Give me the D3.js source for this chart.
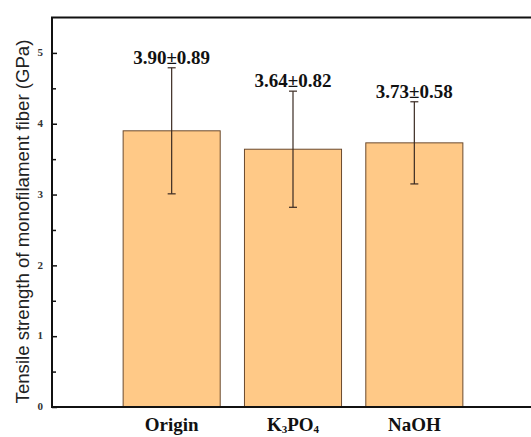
<!DOCTYPE html>
<html><head><meta charset="utf-8">
<script src="https://cdn.jsdelivr.net/npm/d3@7/dist/d3.min.js"></script>
<style>body{margin:0;background:#fff}svg{display:block}</style>
</head><body>
<script>
const categories = ["Origin", "K3PO4", "NaOH"];
const values = [3.90, 3.64, 3.73];
const errors = [0.89, 0.82, 0.58];
const yTicks = [0, 1, 2, 3, 4, 5];
const yMinorTicks = [0.5, 1.5, 2.5, 3.5, 4.5];
const yTitle = "Tensile strength of monofilament fiber (GPa)";

(function () {
const W = 531, H = 437;
const svg = d3.select("body").append("svg").attr("width", W).attr("height", H);
const mLeft = 52, mTop = 17.5, mBottom = 407, mRight = 545;
const serif = "Liberation Serif, Times New Roman, serif";

const y = d3.scaleLinear().domain([0, 5.5]).range([mBottom, mTop]);
const x = d3.scaleBand().domain(categories).range([111, 475]).paddingInner(0.2).paddingOuter(0.1);

// bars
svg.selectAll("rect.bar").data(categories).enter().append("rect")
  .attr("x", d => x(d)).attr("width", x.bandwidth())
  .attr("y", (d, i) => y(values[i])).attr("height", (d, i) => y(0) - y(values[i]))
  .attr("fill", "#FFC987").attr("stroke", "#6b4a2e").attr("stroke-width", 1);

// error bars
const eb = svg.append("g").attr("stroke", "#3a2a22").attr("stroke-width", 1.2);
categories.forEach((c, i) => {
  const cx = x(c) + x.bandwidth() / 2;
  const hi = y(values[i] + errors[i]), lo = y(values[i] - errors[i]);
  eb.append("line").attr("x1", cx).attr("x2", cx).attr("y1", hi).attr("y2", lo);
  eb.append("line").attr("x1", cx - 4).attr("x2", cx + 4).attr("y1", hi).attr("y2", hi);
  eb.append("line").attr("x1", cx - 4).attr("x2", cx + 4).attr("y1", lo).attr("y2", lo);
  svg.append("text").attr("x", cx).attr("y", hi - 4).attr("text-anchor", "middle")
    .attr("font-family", serif).attr("font-weight", "bold")
    .attr("font-size", 19).attr("fill", "#111")
    .text(values[i].toFixed(2) + "±" + errors[i].toFixed(2));
});

// frame
svg.append("rect").attr("x", mLeft).attr("y", mTop).attr("width", mRight - mLeft).attr("height", mBottom - mTop)
  .attr("fill", "none").attr("stroke", "#111").attr("stroke-width", 2);

// y axis
const yAxis = d3.axisRight(y).tickValues(yTicks).tickSize(5).tickFormat(d3.format("d"));
const ga = svg.append("g").attr("transform", `translate(${mLeft},0)`).call(yAxis);
ga.select(".domain").remove();
ga.selectAll(".tick line").attr("stroke", "#111").attr("stroke-width", 1.5);
ga.selectAll(".tick text").attr("x", -9).attr("dy", "0.25em").attr("text-anchor", "end")
  .attr("font-family", serif).attr("font-weight", "bold")
  .attr("font-size", 11).attr("fill", "#333");
const gm = svg.append("g").attr("transform", `translate(${mLeft},0)`)
  .call(d3.axisRight(y).tickValues(yMinorTicks).tickSize(4).tickFormat(""));
gm.select(".domain").remove();
gm.selectAll(".tick line").attr("stroke", "#111").attr("stroke-width", 1.5);

// x labels
const xl = svg.append("g");
categories.forEach(c => {
  const t = xl.append("text").attr("x", x(c) + x.bandwidth() / 2).attr("y", 431)
    .attr("text-anchor", "middle").attr("font-family", serif)
    .attr("font-weight", "bold").attr("font-size", 19).attr("fill", "#111");
  const m = c.match(/^([A-Za-z]+)(\d)([A-Za-z]+)(\d)$/);
  if (m) {
    t.append("tspan").text(m[1]);
    t.append("tspan").attr("font-size", 11).attr("dy", 2).text(m[2]);
    t.append("tspan").attr("dy", -2).text(m[3]);
    t.append("tspan").attr("font-size", 11).attr("dy", 2).text(m[4]);
  } else t.text(c);
});

// y title
svg.append("text").attr("transform", `translate(29,${(13 + 430) / 2}) rotate(-90)`)
  .attr("text-anchor", "middle").attr("font-family", "Liberation Sans, Arial, sans-serif")
  .attr("font-size", 18.6).attr("fill", "#222").text(yTitle);
})();
</script>
</body></html>
